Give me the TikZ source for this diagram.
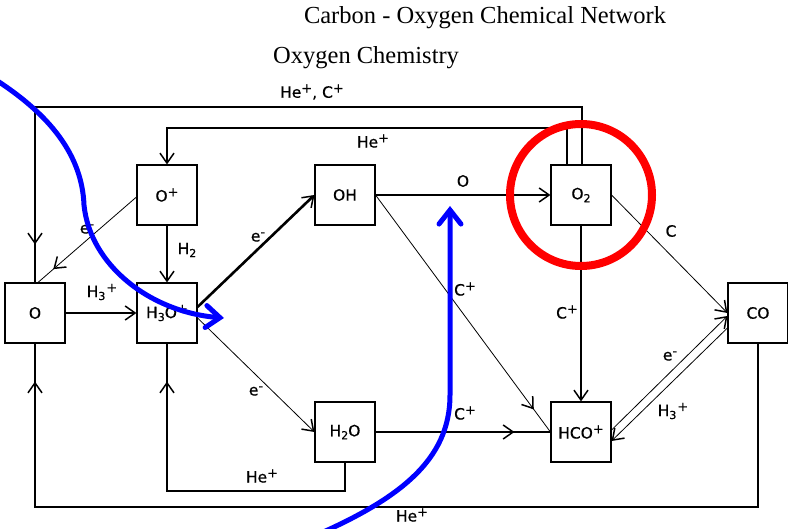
\documentclass[tikz,border=0pt]{standalone}
\usepackage{fontspec}
\setmainfont{Liberation Serif}
\newfontfamily\lblfont[FakeBold=0.5]{DejaVu Sans}
\usetikzlibrary{arrows.meta,decorations.markings}
\newcommand\myup[1]{\raisebox{0.6ex}{\fontsize{13}{13}\selectfont #1}}
\newcommand\mydn[1]{\raisebox{-0.35ex}{\fontsize{11}{11}\selectfont #1}}
\tikzset{
  sp/.style={draw, line width=1.1pt, minimum width=60pt, minimum height=60pt, inner sep=0pt,
    font=\lblfont\fontsize{15.5}{18}\selectfont},
  conn/.style={line width=1.2pt},
  thinconn/.style={line width=0.8pt},
  thickconn/.style={line width=2.6pt},
  arrowend/.style={-{Straight Barb[length=10pt,width=14pt,line width=1.5pt]}},
  midtip/.style={postaction={decorate,decoration={markings,
      mark=at position #1 with {\arrow[line width=1.5pt]{Straight Barb[length=10pt,width=14pt]}}}}},
  lbl/.style={font=\lblfont\fontsize{15.5}{18}\selectfont, inner sep=0pt},
  hilite/.style={blue, line width=5pt, line cap=round,
      -{Straight Barb[length=14pt,width=22pt,line cap=round]}},
}
\begin{document}
\begin{tikzpicture}[x=1pt,y=-1pt]
\clip (0,0) rectangle (788,529);
\fill[white] (0,0) rectangle (788,529);

% titles
\node[font=\fontsize{24.5}{28}\selectfont, inner sep=0pt] (title) at (485,18) {Carbon - Oxygen Chemical Network};
\node[font=\fontsize{24.5}{28}\selectfont, inner sep=0pt, anchor=west] (sub) at (273,58) {Oxygen Chemistry};

% species
\node[sp] (O)    at (35,313)  {O};
\node[sp] (Op)   at (167,195) {O\myup{+}};
\node[sp] (H3Op) at (167,313) {H\mydn{3}O\myup{+}};
\node[sp] (OH)   at (345,195) {OH};
\node[sp] (O2)   at (581,195) {O\mydn{2}};
\node[sp] (H2O)  at (345,432) {H\mydn{2}O};
\node[sp] (HCOp) at (581,432) {HCO\myup{+}};
\node[sp] (CO)   at (758,313) {CO};

\coordinate (topA) at (0,107);
\coordinate (topB) at (0,128);
\coordinate (botA) at (0,491);
\coordinate (botB) at (0,507);

% connectors
\draw[conn, midtip=-38pt] ([xshift=1pt]O2.north) |- (topA -| O.north) -- (O.north);
\draw[conn, arrowend] ([xshift=-14pt]O2.north) |- (topB -| Op.north) -- (Op.north);
\draw[thinconn, midtip=-20pt] ([yshift=-2pt]Op.west) -- ([xshift=3pt]O.north);
\draw[conn, arrowend] (Op.south) -- (H3Op.north);
\draw[conn, arrowend] (O.east) -- (H3Op.west);
\draw[thickconn, arrowend] ([yshift=6pt]H3Op.east) -- (OH.west);
\draw[thinconn, arrowend] ([yshift=-5pt]H3Op.east) -- (H2O.west);
\draw[conn, arrowend] (OH.east) -- (O2.west);
\draw[thinconn, midtip=-28pt] (OH.east) -- (HCOp.west);
\draw[conn, midtip=-36pt] (H2O.east) -- (HCOp.west);
\draw[conn, arrowend] (O2.south) -- (HCOp.north);
\draw[thinconn, arrowend] (O2.east) -- (CO.west);
\draw[thinconn, arrowend] ([yshift=2pt]HCOp.east) -- ([yshift=-3pt]CO.west);
\draw[thinconn, arrowend] ([yshift=-15pt]CO.west) -- ([yshift=-9pt]HCOp.east);
\draw[conn, midtip=-38pt] (H2O.south) |- (botA -| H3Op.south) -- (H3Op.south);
\draw[conn, midtip=-38pt] (CO.south) |- (botB -| O.south) -- (O.south);

% labels
\node[lbl] (l1)  at (312,92)  {He\myup{+}, C\myup{+}};
\node[lbl] (l2)  at (373,141) {He\myup{+}};
\node[lbl] (l3)  at (87,229)  {e\myup{-}};
\node[lbl] (l4)  at (187,250) {H\mydn{2}};
\node[lbl] (l5)  at (102,292) {H\mydn{3}\kern1pt\myup{+}};
\node[lbl] (l6)  at (258,237) {e\myup{-}};
\node[lbl] (l7)  at (256,391) {e\myup{-}};
\node[lbl] (l8)  at (463,181) {O};
\node[lbl] (l9)  at (465,289) {C\myup{+}};
\node[lbl] (l10) at (465,413) {C\myup{+}};
\node[lbl] (l11) at (567,312) {C\myup{+}};
\node[lbl] (l12) at (671,231) {C};
\node[lbl] (l13) at (670,356) {e\myup{-}};
\node[lbl] (l14) at (673,411) {H\mydn{3}\kern1pt\myup{+}};
\node[lbl] (l15) at (262,476) {He\myup{+}};
\node[lbl] (l16) at (412,515) {He\myup{+}};

% highlights
\draw[red, line width=8pt] (O2.center) circle[radius=71pt];
\draw[hilite] (-4,80) .. controls (50,115) and (82,155) .. (84,205)
   .. controls (90,265) and (150,312) .. (224,318);
\draw[hilite] (305,540) .. controls (400,500) and (450,460) .. (450,395) -- (450,206);
\end{tikzpicture}
\end{document}
